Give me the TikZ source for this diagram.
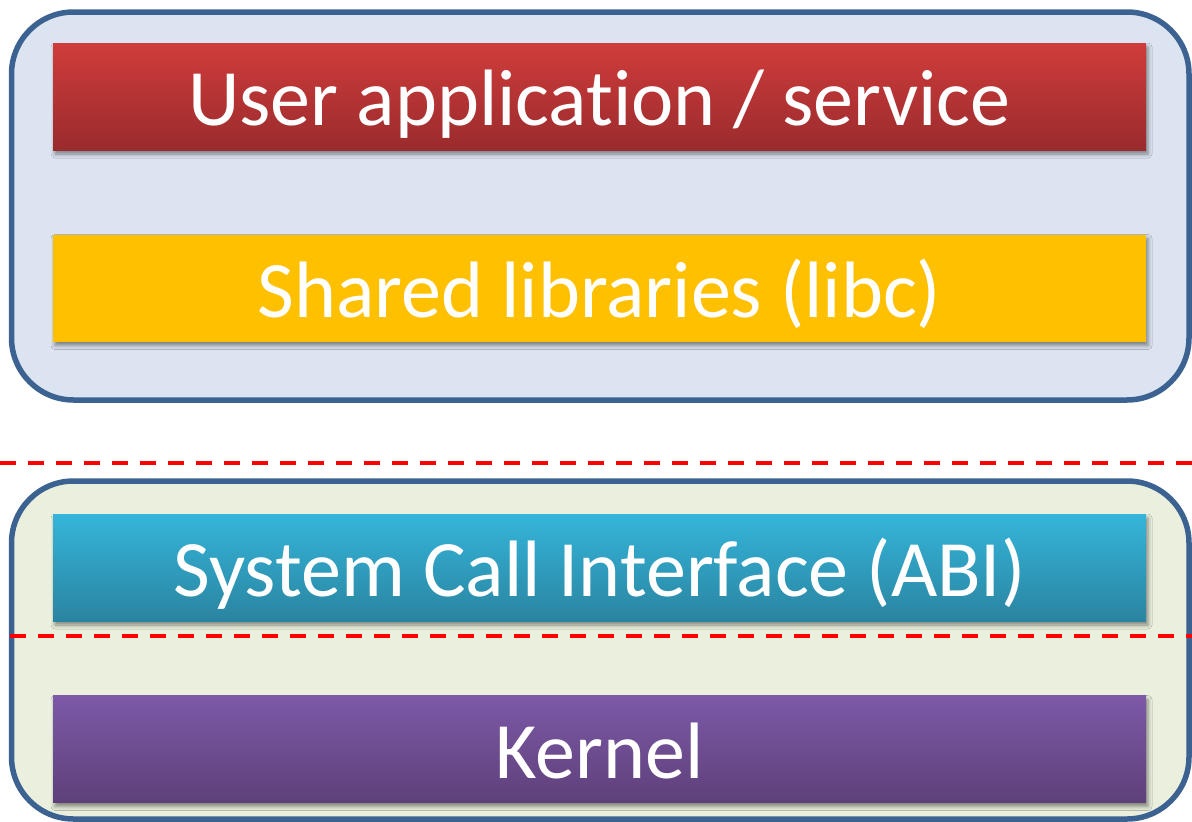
\documentclass[tikz,border=0pt]{standalone}
\usepackage{fontspec}
\setmainfont{Carlito}[RawFeature={-liga}]
\usetikzlibrary{shadows.blur}

\definecolor{userTop}{HTML}{D03C3B}
\definecolor{userBot}{HTML}{9A2B2D}
\definecolor{libFill}{HTML}{FFC000}
\definecolor{abiTop}{HTML}{35B5DA}
\definecolor{abiBot}{HTML}{2A84A0}
\definecolor{kernTop}{HTML}{7D59A8}
\definecolor{kernBot}{HTML}{5E4079}
\definecolor{userSpace}{HTML}{DBE4F0}
\definecolor{kernSpace}{HTML}{EAF0DD}
\definecolor{frame}{HTML}{3B6291}

\tikzset{
  space/.style={draw=frame, line width=5.5pt, rounded corners=62pt},
  layer/.style={rectangle, inner sep=0pt, minimum width=1093pt, minimum height=107pt,
    blur shadow={shadow xshift=2pt, shadow yshift=-4pt, shadow blur radius=4pt, shadow opacity=45}},
  caption/.style={anchor=base, text=white, inner sep=0pt,
    font=\fontsize{80}{96}\selectfont},
  border/.style={draw=red, line width=4.5pt, dash pattern=on 16pt off 12pt},
}

\begin{document}
\begin{tikzpicture}[x=1pt, y=1pt]
  \useasboundingbox (0,0) rectangle (1192,-822);

  % user space and kernel space frames
  \path[space, fill=userSpace] (11.5,-12) rectangle (1189,-400);
  \path[space, fill=kernSpace] (11.5,-481) rectangle (1189,-819);

  % layers
  \node[layer, top color=userTop, bottom color=userBot] (user) at (599.5,-96.5) {};
  \node[layer, fill=libFill] (lib) at (599.5,-288) {};
  \node[layer, top color=abiTop, bottom color=abiBot] (abi) at (599.5,-567.5) {};
  \node[layer, top color=kernTop, bottom color=kernBot] (kern) at (599.5,-749) {};

  \node[caption] (userT) at ([yshift=-29pt]user.center) {User application / service};
  \node[caption] (libT) at ([yshift=-29pt]lib.center) {Shared libraries (libc)};
  \node[caption] (abiT) at ([yshift=-29pt]abi.center) {System Call Interface (ABI)};
  \node[caption] (kernT) at ([yshift=-29pt]kern.center) {Kernel};

  % privilege boundaries
  \coordinate (b1l) at (0,-463);
  \coordinate (b1r) at (1192,-463);
  \coordinate (b2l) at (10,-636);
  \coordinate (b2r) at (1192,-636);
  \draw[border] (b1l) -- (b1r);
  \draw[border] (b2l) -- (b2r);
\end{tikzpicture}
\end{document}
